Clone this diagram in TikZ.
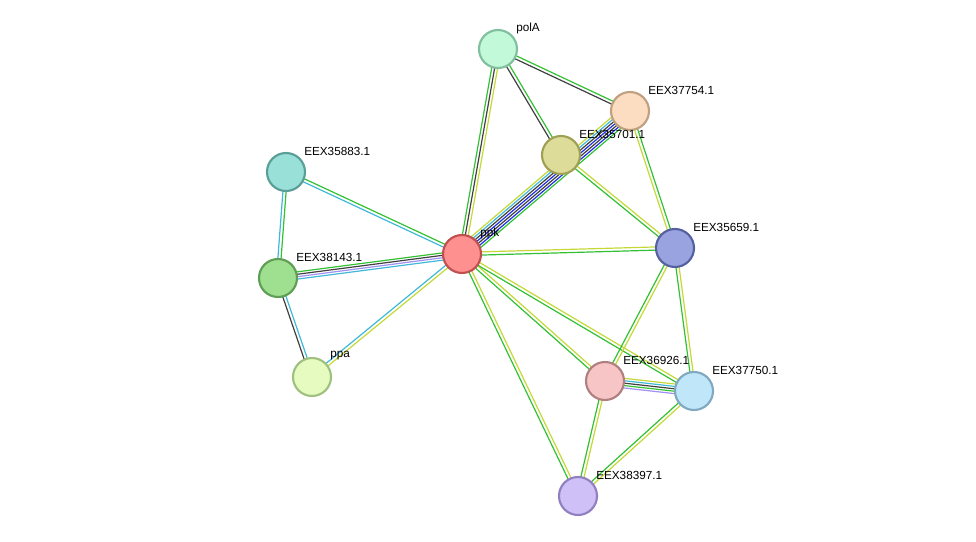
\documentclass[tikz,border=0pt]{standalone}
\usepackage{fontspec}
\setmainfont{Liberation Sans}
\usetikzlibrary{calc}
\definecolor{eg}{HTML}{33C033}
\definecolor{ey}{HTML}{C4D838}
\definecolor{ek}{HTML}{404040}
\definecolor{ec}{HTML}{40B8D8}
\definecolor{eb}{HTML}{2030E0}
\definecolor{ep}{HTML}{A090F0}
\newcommand\eline[4]{\draw[#4,line width=0.9pt] ($(#1)!#3!90:(#2)$) -- ($(#2)!#3!-90:(#1)$);}
\newcommand\edge[3]{\foreach \cc/\oo in {#3}{\eline{#1}{#2}{\oo pt}{\cc}}}
\tikzset{prot/.style={circle,minimum size=28.5pt,inner sep=0pt,line width=1.6pt},
lab/.style={anchor=west,font=\fontsize{8.8}{10}\selectfont,inner sep=0pt}}
\begin{document}
\begin{tikzpicture}[x=0.75pt,y=-0.75pt]
\useasboundingbox (0,0) rectangle (976,542);
\coordinate (polA) at (498,49);
\coordinate (e754) at (630,111);
\coordinate (e701) at (561,155);
\coordinate (e883) at (286,172);
\coordinate (ppk) at (462,254);
\coordinate (e659) at (675,248);
\coordinate (e143) at (278,278);
\coordinate (ppa) at (312,377);
\coordinate (e926) at (605,381);
\coordinate (e750) at (694,391);
\coordinate (e397) at (578,496);
\edge{ppk}{polA}{ey/-2.2,ek/0,eg/2.2}
\edge{polA}{e754}{ek/-1.2,eg/1.2}
\edge{polA}{e701}{ek/-1.2,eg/1.2}
\edge{ppk}{e754}{eg/-5.4,eb/-3.6,ek/-1.8,eb/0,ek/1.8,ec/3.6,ey/5.4}
\edge{e754}{e659}{ey/-1.2,eg/1.2}
\edge{e701}{e659}{eg/-1.2,ey/1.2}
\edge{ppk}{e659}{eg/-1.2,ey/1.2}
\edge{ppk}{e883}{eg/-1.2,ec/1.2}
\edge{e883}{e143}{ec/-1.2,eg/1.2}
\edge{ppk}{e143}{eg/-2.7,ek/-0.9,ep/0.9,ec/2.7}
\edge{e143}{ppa}{ek/-1.2,ec/1.2}
\edge{ppk}{ppa}{ec/-1.2,ey/1.2}
\edge{ppk}{e926}{eg/-1.2,ey/1.2}
\edge{ppk}{e750}{eg/-1.2,ey/1.2}
\edge{ppk}{e397}{eg/-1.2,ey/1.2}
\edge{e659}{e926}{eg/-1.2,ey/1.2}
\edge{e659}{e750}{eg/-1.2,ey/1.2}
\edge{e926}{e750}{ep/-3.6,eg/-1.8,ek/0,ec/1.8,ey/3.6}
\edge{e926}{e397}{eg/-1.2,ey/1.2}
\edge{e750}{e397}{eg/-1.2,ey/1.2}
\foreach \n/\f/\d/\t in {polA/C1F9D9/80C09E/polA, e754/FDDDC1/C0A080/EEX37754.1, e701/DDDD99/A0A055/EEX35701.1, e883/99E0D8/5A9E98/EEX35883.1, ppk/FF9090/C05050/ppk, e659/99A3E0/5560A0/EEX35659.1, e143/9EDF90/5E9E55/EEX38143.1, ppa/E5FBC0/A0C080/ppa, e926/F7C5C5/B08080/EEX36926.1, e750/C0E6FA/80A8C0/EEX37750.1, e397/D0C0F8/9080C0/EEX38397.1}{
 \definecolor{ff}{HTML}{\f}\definecolor{dd}{HTML}{\d}
 \node[prot,fill=ff,draw=dd] (n-\n) at (\n) {};
 \node[lab] (l-\n) at ($(\n)+(18,-21)$) {\t};
}
\end{tikzpicture}
\end{document}
